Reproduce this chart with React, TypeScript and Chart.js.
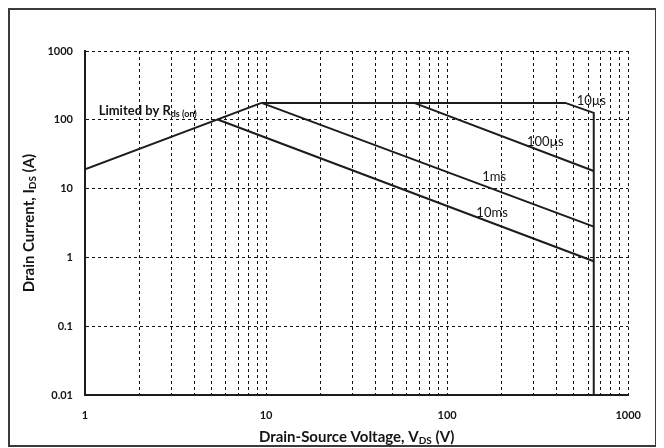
import React, { useEffect, useRef } from "react";
import { Chart, registerables } from "chart.js";

Chart.register(...registerables);

// ---- data (V_DS in volts, I_DS in amps) ----
const rdsV = [1, 9.44];
const rdsI = [19, 176];
const us10V = [9.44, 449, 645, 645];
const us10I = [176, 176, 126, 0.01];
const us100V = [65.7, 645];
const us100I = [176, 18];
const ms1V = [9.44, 645];
const ms1I = [176, 2.8];
const ms10V = [5.4, 645];
const ms10I = [101, 0.88];

// ---- axis ticks ----
const xGridValues = [
  1, 2, 3, 4, 5, 6, 7, 8, 9,
  10, 20, 30, 40, 50, 60, 70, 80, 90,
  100, 200, 300, 400, 500, 600, 700, 800, 900,
  1000,
];
const xLabelValues = [1, 10, 100, 1000];
const xTickLabels = ["1", "10", "100", "1000"];
const yLabelValues = [0.01, 0.1, 1, 10, 100, 1000];
const yTickLabels = ["0.01", "0.1", "1", "10", "100", "1000"];

// ---- curve annotations ----
const curveLabels = ["10\u00b5s", "100\u00b5s", "1ms", "10ms"];
const curveLabelV = [625, 348, 182, 177];
const curveLabelI = [189, 48.4, 14.6, 4.4];
const rdsLabelV = 1.19;
const rdsLabelI = 136;

const toPts = (xs: number[], ys: number[]) => xs.map((x, i) => ({ x, y: ys[i] }));

const FONT = "Lato, 'Open Sans', sans-serif";

type Part = [string, boolean];

function drawParts(
  ctx: CanvasRenderingContext2D,
  parts: Part[],
  startX: number,
  cy: number,
  mainFont: string,
  subFont: string,
  subShift: number
) {
  let x = startX;
  for (const [t, sub] of parts) {
    ctx.font = sub ? subFont : mainFont;
    ctx.fillText(t, x, sub ? cy + subShift : cy);
    x += ctx.measureText(t).width;
  }
}

function partsWidth(ctx: CanvasRenderingContext2D, parts: Part[], mainFont: string, subFont: string) {
  let w = 0;
  for (const [t, sub] of parts) {
    ctx.font = sub ? subFont : mainFont;
    w += ctx.measureText(t).width;
  }
  return w;
}

const textPlugin = {
  id: "soaText",
  afterDraw(chart: any) {
    const ctx: CanvasRenderingContext2D = chart.ctx;
    const xs = chart.scales.x;
    const ys = chart.scales.y;
    const area = chart.chartArea;
    ctx.save();
    ctx.fillStyle = "#141414";
    ctx.textBaseline = "middle";
    ctx.textAlign = "left";

    // curve labels
    const lf = `13px ${FONT}`;
    for (let i = 0; i < curveLabels.length; i++) {
      ctx.font = lf;
      const w = ctx.measureText(curveLabels[i]).width;
      ctx.fillText(
        curveLabels[i],
        xs.getPixelForValue(curveLabelV[i]) - w / 2,
        ys.getPixelForValue(curveLabelI[i])
      );
    }

    // Limited by Rds(on)
    drawParts(
      ctx,
      [["Limited by R", false], ["ds (on)", true]],
      xs.getPixelForValue(rdsLabelV),
      ys.getPixelForValue(rdsLabelI),
      `bold 13px ${FONT}`,
      `bold 9px ${FONT}`,
      3
    );

    // x title
    const tMain = `bold 15px ${FONT}`;
    const tSub = `bold 10px ${FONT}`;
    const xParts: Part[] = [["Drain-Source Voltage, V", false], ["DS", true], [" (V)", false]];
    const xw = partsWidth(ctx, xParts, tMain, tSub);
    const cx = (area.left + area.right) / 2;
    drawParts(ctx, xParts, cx - xw / 2, 427, tMain, tSub, 4);

    // y title
    const yParts: Part[] = [["Drain Current, I", false], ["DS", true], [" (A)", false]];
    const yw = partsWidth(ctx, yParts, tMain, tSub);
    const cy = (area.top + area.bottom) / 2;
    ctx.translate(19, cy);
    ctx.rotate(-Math.PI / 2);
    drawParts(ctx, yParts, -yw / 2, 0, tMain, tSub, 4);
    ctx.restore();
  },
};

export default function App() {
  const ref = useRef<HTMLCanvasElement | null>(null);

  useEffect(() => {
    if (!ref.current) return;
    const lineStyle = {
      borderColor: "#1c1c1c",
      borderWidth: 2,
      pointRadius: 0,
      showLine: true,
      fill: false,
      tension: 0,
    };
    const chart = new Chart(ref.current, {
      type: "scatter",
      data: {
        datasets: [
          { ...lineStyle, data: toPts(rdsV, rdsI) },
          { ...lineStyle, data: toPts(us10V, us10I) },
          { ...lineStyle, data: toPts(us100V, us100I) },
          { ...lineStyle, data: toPts(ms1V, ms1I) },
          { ...lineStyle, data: toPts(ms10V, ms10I) },
        ],
      },
      options: {
        animation: false,
        responsive: false,
        layout: { padding: { top: 41, right: 25, left: 0, bottom: 0 } },
        plugins: {
          legend: { display: false },
          tooltip: { enabled: false },
          title: { display: false },
        },
        scales: {
          x: {
            type: "logarithmic",
            min: 1,
            max: 1000,
            afterBuildTicks: (s: any) => {
              s.ticks = xGridValues.map((v) => ({ value: v }));
            },
            afterFit: (s: any) => {
              s.height = 50;
            },
            ticks: {
              autoSkip: false,
              maxRotation: 0,
              padding: 14,
              color: "#141414",
              font: { family: FONT, weight: "bold", size: 11 },
              callback: (v: any) => {
                const i = xLabelValues.indexOf(Number(v));
                return i >= 0 ? xTickLabels[i] : "";
              },
            },
            grid: { color: "#111", lineWidth: 1, drawTicks: false },
            border: { display: true, color: "#1c1c1c", width: 2, dash: [3, 3] },
          },
          y: {
            type: "logarithmic",
            min: 0.01,
            max: 1000,
            afterBuildTicks: (s: any) => {
              s.ticks = yLabelValues.map((v) => ({ value: v }));
            },
            afterFit: (s: any) => {
              s.width = 75;
            },
            ticks: {
              autoSkip: false,
              padding: 12,
              color: "#141414",
              font: { family: FONT, weight: "bold", size: 11 },
              callback: (v: any) => {
                const i = yLabelValues.indexOf(Number(v));
                return i >= 0 ? yTickLabels[i] : "";
              },
            },
            grid: { color: "#111", lineWidth: 1, drawTicks: false },
            border: { display: true, color: "#1c1c1c", width: 2, dash: [3, 3] },
          },
        },
      } as any,
      plugins: [textPlugin],
    });
    return () => chart.destroy();
  }, []);

  return (
    <div
      style={{
        width: 649,
        height: 439,
        border: "2px solid #3a3a3a",
        boxSizing: "border-box",
        background: "#fff",
      }}
    >
      <canvas ref={ref} width={645} height={435} style={{ display: "block" }} />
    </div>
  );
}
